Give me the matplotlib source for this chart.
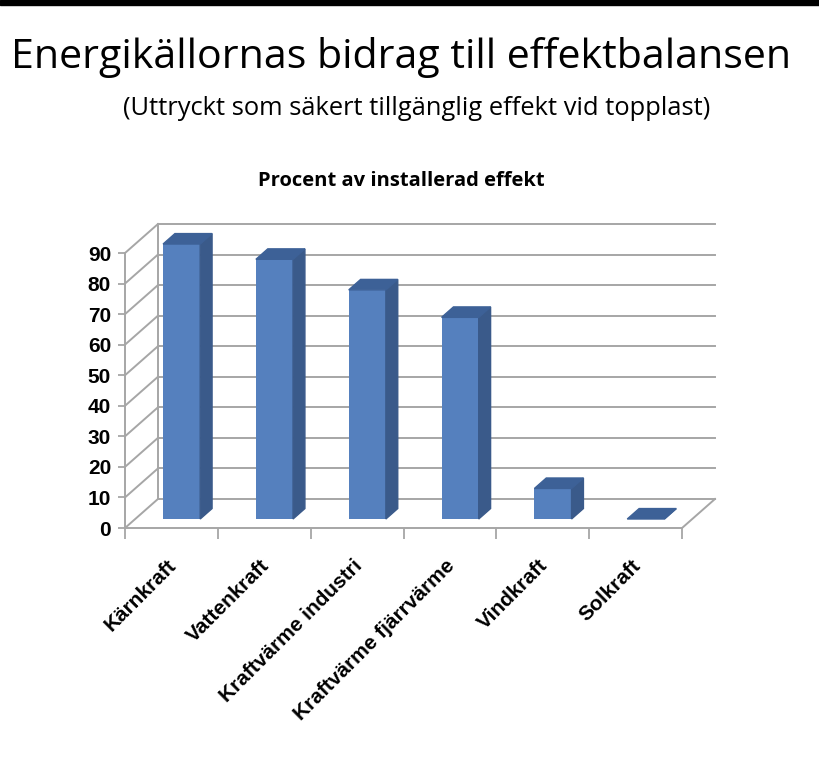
import matplotlib
matplotlib.use('Agg')
import matplotlib.pyplot as plt
from matplotlib.patches import Polygon, Rectangle

# data
categories = ['Kärnkraft', 'Vattenkraft', 'Kraftvärme industri',
              'Kraftvärme fjärrvärme', 'Vindkraft', 'Solkraft']
values = [90, 85, 75, 66, 10, 0]
yticks = list(range(0, 100, 10))

# pseudo-3d geometry (in data units)
DX = 0.355     # depth offset along x (categories)
DY = 9.5       # depth offset along y (values)
f_off = 0.31   # bar position in depth
b_dep = 0.36   # bar depth
bar_w = 0.40

front_c = '#5580BE'
side_c = '#3A5A8A'
top_c = '#3D6197'
grid_c = '#A6A6A6'

fig = plt.figure(figsize=(8.19, 7.64), dpi=100)
fig.patches.append(Rectangle((0, 1 - 5 / 764), 1, 5 / 764, transform=fig.transFigure,
                             color='black', zorder=0))

fig.text(0.49, 1 - 68 / 764, 'Energikällornas bidrag till effektbalansen',
         ha='center', va='baseline', fontsize=29.6, family='Open Sans')
fig.text(0.509, 1 - 115 / 764, '(Uttryckt som säkert tillgänglig effekt vid topplast)',
         ha='center', va='baseline', fontsize=18.4, family='Open Sans')
fig.text(0.49, 1 - 186 / 764, 'Procent av installerad effekt',
         ha='center', va='baseline', fontsize=14.5, family='Open Sans', fontweight='bold')

ax = fig.add_axes([125 / 819, 1 - 528 / 764, 590 / 819, 304 / 764])
n = len(categories)
ax.set_xlim(0, n + DX)
ax.set_ylim(0, yticks[-1] + DY)

# back wall grid and left wall
for v in yticks:
    ax.plot([DX, n + DX], [v + DY, v + DY], color=grid_c, lw=1.4, clip_on=False, zorder=1)
    ax.plot([0, DX], [v, v + DY], color=grid_c, lw=1.4, clip_on=False, zorder=1)
ax.plot([0, 0], [0, yticks[-1]], color=grid_c, lw=1.4, clip_on=False, zorder=1)
ax.plot([DX, DX], [DY, yticks[-1] + DY], color=grid_c, lw=1.4, clip_on=False, zorder=1)
# floor
ax.plot([0, n], [0, 0], color=grid_c, lw=1.4, clip_on=False, zorder=1)
ax.plot([n, n + DX], [0, DY], color=grid_c, lw=1.4, clip_on=False, zorder=1)

# bars
centers = [i + 0.5 + f_off * DX for i in range(n)]
base = f_off * DY
ax.bar(centers, values, width=bar_w, bottom=base, color=front_c, zorder=3)
bx, by = b_dep * DX, b_dep * DY
for c, v in zip(centers, values):
    x0, x1 = c - bar_w / 2, c + bar_w / 2
    top = base + v
    ax.add_patch(Polygon([(x1, base), (x1 + bx, base + by), (x1 + bx, top + by), (x1, top)],
                         closed=True, color=side_c, zorder=3))
    ax.add_patch(Polygon([(x0, top), (x1, top), (x1 + bx, top + by), (x0 + bx, top + by)],
                         closed=True, color=top_c, zorder=4))

for s in ax.spines.values():
    s.set_visible(False)
ax.set_yticks(yticks)
ax.set_yticklabels([str(v) for v in yticks], fontsize=15, fontweight='bold',
                   family='Liberation Sans')
ax.tick_params(axis='y', length=5, width=1.3, color=grid_c, pad=5)
ax.set_xticks(range(n + 1))
ax.set_xticklabels([])
ax.tick_params(axis='x', which='major', length=8, width=1.3, color=grid_c)
ax.set_xticks([i + 0.45 for i in range(n)], minor=True)
ax.set_xticklabels(categories, minor=True, rotation=45, ha='right', va='top',
                   rotation_mode='anchor', fontsize=15, fontweight='bold',
                   family='Liberation Sans')
ax.tick_params(axis='x', which='minor', length=0, pad=20)
ax.set_facecolor('none')

fig.savefig('out.png', dpi=100)
